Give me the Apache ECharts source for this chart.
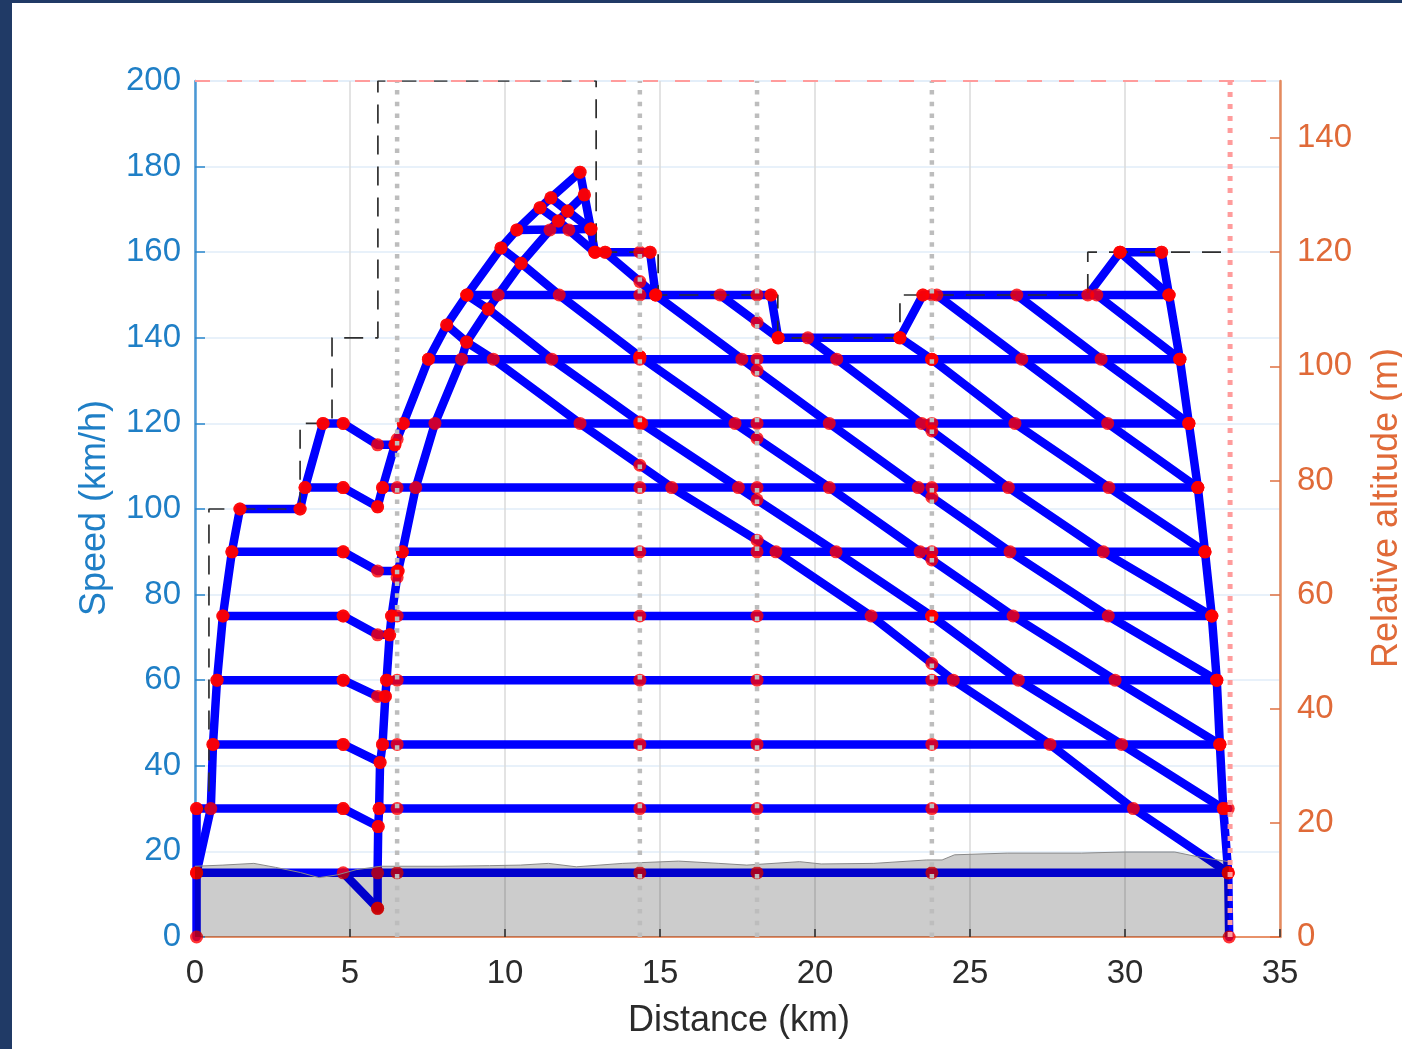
<!DOCTYPE html>
<html><head><meta charset="utf-8">
<script src="https://cdn.jsdelivr.net/npm/echarts@6/dist/echarts.min.js"></script>
<style>html,body{margin:0;padding:0;background:#fff;} #chart{width:1402px;height:1049px;}</style>
</head><body><div id="chart"></div>
<script>
// ---------- DATA (distance km, speed km/h, altitude m) ----------
const speedLimit = [[0,30],[0.45,30],[0.45,100],[3.39,100],[3.39,120],[4.42,120],[4.42,140],[5.9,140],[5.9,200],[12.94,200],[12.94,160],[14.94,160],[14.94,150],[18.8,150],[18.8,140],[22.74,140],[22.74,150],[28.8,150],[28.8,160],[33.16,160]];

const altitude = [[0,12.4],[0.9,12.6],[1.9,12.9],[2.6,12.2],[3.4,11.3],[4.0,10.4],[4.6,10.9],[5.2,11.8],[6.0,12.4],[8.0,12.4],[9.5,12.5],[10.5,12.6],[11.4,12.9],[12.3,12.3],[13.8,12.9],[15.6,13.3],[16.9,12.9],[17.8,12.6],[19.5,13.2],[20.2,12.8],[21.9,12.9],[23.6,13.5],[24.1,13.5],[24.5,14.4],[26.2,14.7],[28.6,14.7],[30.0,14.9],[31.6,14.9],[32.4,14.0],[33.35,13.2]];

const nodeLinesKm = [6.52, 14.35, 18.13, 23.77];   // grey dotted node positions
const stopKm = 33.39;                               // red dotted end line
const topSpeed = 200;

const startVertical = [[0.05,0],[0.05,15],[0.05,30]];
const curveA = [[0.05,15],[0.51,30],[0.58,45],[0.71,60],[0.9,75],[1.19,90],[1.45,100]];
const climb = [[3.39,100],[3.55,105],[4.13,120]];
const curveB = [[5.89,100.5],[6.05,105],[6.45,115],[6.72,120],[7.53,135],[8.12,143],[8.77,150],[9.87,161],[10.38,165.2],[11.13,170.4],[11.48,172.7],[12.42,178.7]];
const curveC = [[5.89,6.7],[5.89,15],[5.91,25.8],[5.94,30],[5.97,40.8],[6.05,45],[6.14,56.2],[6.18,60],[6.28,70.6],[6.34,75],[6.55,85.5],[6.69,90],[7.12,105],[7.74,120],[8.6,135],[8.76,139],[9.46,146.7],[9.78,150],[10.52,157.4],[11.45,165.2],[11.72,167.3],[12.02,169.6],[12.56,173.4]];
const accel140 = [[22.74,140],[23.48,150]];
const accel150 = [[28.8,150],[29.84,160]];

const cruiseLines = [
  [[0.05,15],[33.33,15]],
  [[0.05,30],[4.78,30]], [[5.94,30],[33.33,30]],
  [[0.58,45],[4.78,45]], [[6.05,45],[33.06,45]],
  [[0.71,60],[4.78,60]], [[6.18,60],[32.96,60]],
  [[0.9,75],[4.78,75]], [[6.34,75],[32.8,75]],
  [[1.19,90],[4.78,90]], [[6.69,90],[32.58,90]],
  [[1.45,100],[3.39,100]],
  [[3.55,105],[4.78,105]], [[6.05,105],[32.35,105]],
  [[4.13,120],[4.78,120]], [[6.72,120],[32.06,120]],
  [[7.53,135],[31.77,135]],
  [[18.81,140],[22.74,140]],
  [[8.77,150],[18.58,150]], [[23.48,150],[31.42,150]],
  [[12.9,160],[13.23,160],[14.68,160]], [[29.84,160],[31.18,160]],
  [[10.38,165.2],[12.77,165.4]]
];

const dipLines = [
  [[4.78,15],[5.89,6.7]],
  [[4.78,30],[5.91,25.8]],
  [[4.78,45],[5.97,40.8]],
  [[4.78,60],[5.89,56.2],[6.14,56.2]],
  [[4.78,75],[5.89,70.6],[6.28,70.6]],
  [[4.78,90],[5.89,85.5],[6.55,85.5]],
  [[4.78,105],[5.89,100.5]],
  [[4.78,120],[5.89,115],[6.45,115]]
];

const peakBrake = [[12.42,178.7],[12.56,173.4],[12.77,165.4],[12.9,160]];
const brake160 = [[14.68,160],[14.86,150]];
const brake150 = [[18.58,150],[18.81,140]];
const curveR = [[31.18,160],[31.42,150],[31.77,135],[32.06,120],[32.35,105],[32.58,90],[32.8,75],[32.96,60],[33.06,45],[33.17,30],[33.33,15],[33.36,0]];

const coastT1 = [[11.48,172.7],[12.02,169.6],[12.77,165.4]];
const coastT2 = [[11.13,170.4],[11.72,167.3],[12.06,165.2],[12.9,160]];
const coastT3 = [[13.23,160],[14.86,150]];
const coast1 = [[8.12,143],[8.76,139],[9.62,135],[12.42,120],[15.38,105],[18.74,90],[21.81,75],[24.46,60],[27.58,45],[30.27,30],[33.33,15]];
const coast2 = [[8.77,150],[9.46,146.7],[11.51,135],[14.41,120],[17.53,105],[20.68,90],[23.76,75],[26.56,60],[29.89,45],[33.17,30]];
const coast3 = [[9.87,161],[10.52,157.4],[11.75,150],[14.35,135.6],[17.42,120],[20.46,105],[23.39,90],[26.39,75],[29.68,60],[33.06,45]];
const coast4 = [[14.86,150],[17.64,135],[20.46,120],[23.33,105],[26.29,90],[29.46,75],[32.96,60]];
const coast5 = [[19.77,140],[20.7,135],[23.44,120],[26.24,105],[29.3,90],[32.8,75]];
const coast6 = [[22.74,140],[23.76,135],[26.45,120],[29.48,105],[32.58,90]];
const coast7 = [[23.93,150],[26.67,135],[29.44,120],[32.35,105]];
const coast8 = [[16.94,150],[18.81,140]];
const coast9 = [[29.09,150],[31.77,135]];
const coast10 = [[26.51,150],[29.23,135],[32.06,120]];
const coast11 = [[29.84,160],[31.42,150]];

// ---------- BUILD ----------
const bluePolys = [startVertical, curveA, climb, curveB, curveC, accel140, accel150]
  .concat(cruiseLines, dipLines, [peakBrake, brake160, brake150, curveR],
          [coastT1, coastT2, coastT3, coast1, coast2, coast3, coast4, coast5, coast6, coast7, coast8, coast9, coast10, coast11]);

function crossings(poly, x) {
  const out = [];
  for (let i = 0; i < poly.length - 1; i++) {
    const a = poly[i], b = poly[i+1];
    if (a[0] === b[0]) continue;
    if ((a[0] - x) * (b[0] - x) <= 0) {
      out.push([x, a[1] + (x - a[0]) / (b[0] - a[0]) * (b[1] - a[1])]);
    }
  }
  return out;
}
const nodes = [];
bluePolys.forEach(p => {
  p.forEach(pt => nodes.push(pt));
  nodeLinesKm.forEach(x => crossings(p, x).forEach(c => nodes.push(c)));
});

const BLUE = '#0000ff';
const series = [];
bluePolys.forEach(p => series.push({
  type: 'line', data: p, symbol: 'none', z: 3,
  lineStyle: { color: BLUE, width: 8.5, join: 'round', cap: 'round' }
}));
series.push({
  type: 'line', data: speedLimit, symbol: 'none', z: 4,
  lineStyle: { color: '#2e2e2e', width: 1.7, type: [19, 12] }
});
series.push({
  type: 'scatter', data: nodes, symbol: 'circle', symbolSize: 13, z: 5,
  itemStyle: { color: '#ff0000' }
});
series.push({
  type: 'line', yAxisIndex: 1, data: altitude, symbol: 'none', z: 5.5,
  lineStyle: { color: '#8a8a8a', width: 1 },
  areaStyle: { color: 'rgba(0,0,0,0.2)', opacity: 1 }
});
nodeLinesKm.forEach(x => series.push({
  type: 'line', data: [[x, 0], [x, topSpeed]], symbol: 'none', z: 6,
  lineStyle: { color: '#bdbdbd', width: 4.5, type: [4.5, 7.2] }
}));
series.push({
  type: 'line', data: [[stopKm, 0], [stopKm, topSpeed]], symbol: 'none', z: 6,
  lineStyle: { color: '#ff9c9c', width: 5, type: [5, 7] }
});
series.push({
  type: 'line', data: [[0, topSpeed], [35, topSpeed]], symbol: 'none', z: 6,
  lineStyle: { color: '#ff9c9c', width: 2, type: [15, 17] }
});

const FONT = '"Liberation Sans", Arial, Helvetica, sans-serif';
const option = {
  animation: false,
  backgroundColor: '#ffffff',
  grid: { left: 195, top: 81, width: 1085, height: 856, show: true, borderColor: '#d6e6f4', borderWidth: 1, backgroundColor: '#ffffff' },
  xAxis: {
    type: 'value', min: 0, max: 35, interval: 5,
    axisLine: { show: true, onZero: false, lineStyle: { color: '#e8926a', width: 2 } },
    axisTick: { show: true, inside: true, length: 8, lineStyle: { color: '#333', width: 1.5 } },
    axisLabel: { fontSize: 33, color: '#2b2b2b', margin: 20, fontFamily: FONT },
    splitLine: { show: true, lineStyle: { color: '#dadada', width: 1.5 } }
  },
  yAxis: [{
    type: 'value', min: 0, max: 200, interval: 20, position: 'left',
    axisLine: { show: true, lineStyle: { color: '#4a98d6', width: 2.5 } },
    axisTick: { show: true, inside: true, length: 10, lineStyle: { color: '#2a86cc', width: 1.5 } },
    axisLabel: { fontSize: 33, color: '#1f7fc6', margin: 14, fontFamily: FONT },
    splitLine: { show: true, lineStyle: { color: '#e1edf8', width: 1.5 } }
  }, {
    type: 'value', min: 0, max: 150, interval: 20, position: 'right',
    axisLine: { show: true, lineStyle: { color: '#e48a5e', width: 2.5 } },
    axisTick: { show: true, inside: true, length: 10, lineStyle: { color: '#e07040', width: 1.5 } },
    axisLabel: { fontSize: 33, color: '#e06a38', margin: 17, fontFamily: FONT, showMaxLabel: false },
    splitLine: { show: false }
  }],
  graphic: [
    { type: 'rect', z: 100, shape: { x: 0, y: 0, width: 12, height: 1049 }, style: { fill: '#203a66' } },
    { type: 'rect', z: 100, shape: { x: 0, y: 0, width: 1402, height: 3 }, style: { fill: '#203a66' } },
    { type: 'text', z: 100, x: 95, y: 508, rotation: Math.PI / 2,
      style: { text: 'Speed (km/h)', font: '36px ' + FONT, fill: '#1f7fc6', align: 'center', verticalAlign: 'middle' } },
    { type: 'text', z: 100, x: 1387, y: 508, rotation: Math.PI / 2,
      style: { text: 'Relative altitude (m)', font: '36px ' + FONT, fill: '#e06a38', align: 'center', verticalAlign: 'middle' } },
    { type: 'text', z: 100, x: 739, y: 1021,
      style: { text: 'Distance (km)', font: '36px ' + FONT, fill: '#2b2b2b', align: 'center', verticalAlign: 'middle' } }
  ],
  series: series
};
const chart = echarts.init(document.getElementById('chart'), null, { renderer: 'canvas' });
chart.setOption(option);
</script></body></html>
